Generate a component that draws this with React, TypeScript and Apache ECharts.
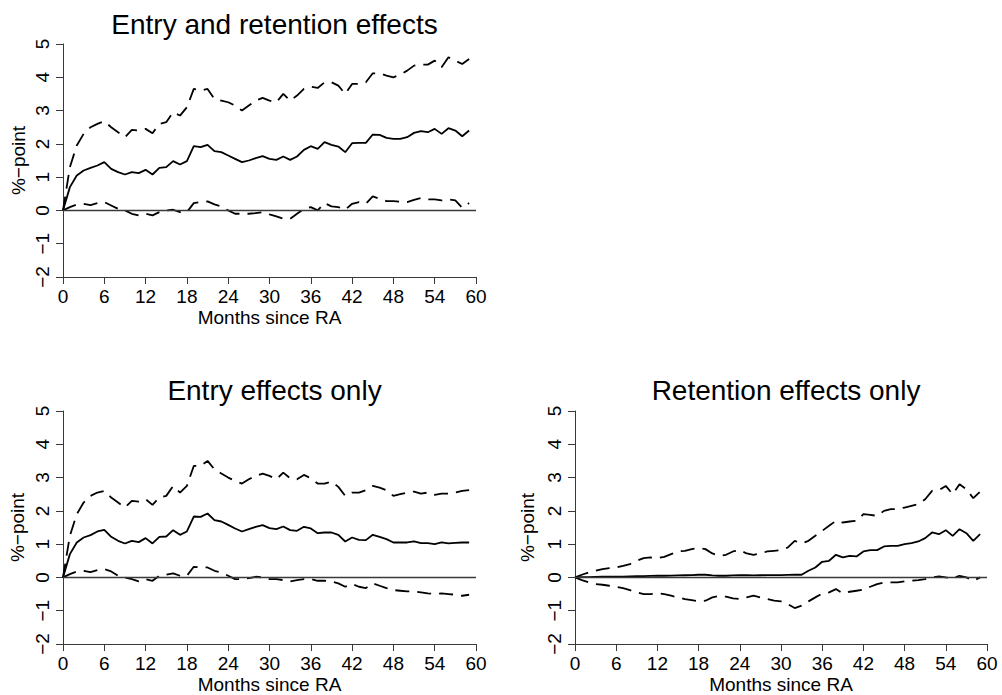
import React, { useEffect, useRef } from "react";
import * as echarts from "echarts";

const months: number[] = Array.from({ length: 60 }, (_, i) => i);
const xTicks = { min: 0, max: 60, interval: 6 };
const yTicks = { min: -2, max: 5, interval: 1 };

const titles = ["Entry and retention effects", "Entry effects only", "Retention effects only"];
const xName = "Months since RA";
const yName = "%−point";

// Panel 1: entry and retention effects
const p1Est = [0, 0.7, 1.05, 1.2, 1.28, 1.35, 1.45, 1.25, 1.15, 1.08, 1.15, 1.12, 1.22, 1.08, 1.28, 1.3, 1.48, 1.38, 1.48, 1.93, 1.9, 1.97, 1.78, 1.75, 1.65, 1.55, 1.45, 1.5, 1.57, 1.63, 1.55, 1.52, 1.62, 1.52, 1.62, 1.82, 1.93, 1.85, 2.05, 1.97, 1.92, 1.75, 2.02, 2.03, 2.03, 2.28, 2.27, 2.18, 2.15, 2.15, 2.2, 2.33, 2.38, 2.35, 2.45, 2.3, 2.47, 2.4, 2.23, 2.4];
const p1Up = [0, 1.3, 1.95, 2.3, 2.5, 2.6, 2.68, 2.5, 2.35, 2.2, 2.42, 2.4, 2.45, 2.32, 2.6, 2.65, 2.95, 2.85, 3.1, 3.65, 3.6, 3.65, 3.35, 3.3, 3.25, 3.15, 3.0, 3.15, 3.3, 3.38, 3.3, 3.25, 3.5, 3.3, 3.45, 3.65, 3.72, 3.68, 3.85, 3.85, 3.75, 3.5, 3.8, 3.8, 3.85, 4.12, 4.12, 4.05, 4.0, 4.08, 4.2, 4.35, 4.38, 4.38, 4.5, 4.3, 4.6, 4.5, 4.4, 4.55];
const p1Lo = [0, 0.1, 0.18, 0.2, 0.16, 0.22, 0.25, 0.15, 0.05, 0.0, -0.1, -0.15, -0.1, -0.15, -0.05, 0.0, 0.02, -0.05, -0.05, 0.22, 0.25, 0.27, 0.18, 0.12, 0.0, -0.1, -0.1, -0.1, -0.08, -0.05, -0.12, -0.18, -0.25, -0.25, -0.1, 0.05, 0.1, 0.0, 0.22, 0.12, 0.1, 0.02, 0.2, 0.25, 0.2, 0.42, 0.35, 0.28, 0.28, 0.26, 0.25, 0.32, 0.37, 0.33, 0.33, 0.3, 0.33, 0.3, 0.08, 0.22];

// Panel 2: entry effects only
const p2Est = [0, 0.7, 1.05, 1.2, 1.27, 1.38, 1.43, 1.22, 1.1, 1.02, 1.1, 1.06, 1.18, 1.02, 1.22, 1.23, 1.42, 1.28, 1.38, 1.83, 1.82, 1.92, 1.72, 1.68, 1.58, 1.47, 1.38, 1.45, 1.52, 1.57, 1.48, 1.45, 1.53, 1.42, 1.4, 1.52, 1.47, 1.33, 1.35, 1.35, 1.28, 1.08, 1.2, 1.13, 1.12, 1.28, 1.22, 1.15, 1.05, 1.05, 1.05, 1.08, 1.03, 1.03, 1.0, 1.05, 1.02, 1.04, 1.05, 1.05];
const p2Up = [0, 1.25, 1.9, 2.25, 2.45, 2.55, 2.6, 2.4, 2.25, 2.1, 2.3, 2.28, 2.35, 2.18, 2.4, 2.45, 2.75, 2.55, 2.75, 3.35, 3.35, 3.5, 3.25, 3.12, 3.0, 2.9, 2.82, 2.95, 3.05, 3.12, 3.05, 2.95, 3.15, 2.98, 2.95, 3.08, 2.98, 2.82, 2.82, 2.88, 2.72, 2.45, 2.55, 2.55, 2.62, 2.75, 2.7, 2.62, 2.45, 2.5, 2.55, 2.58, 2.52, 2.55, 2.48, 2.52, 2.52, 2.55, 2.6, 2.62];
const p2Lo = [0, 0.1, 0.18, 0.2, 0.16, 0.22, 0.25, 0.18, 0.05, 0.0, -0.05, -0.12, -0.05, -0.1, 0.05, 0.08, 0.12, 0.05, 0.05, 0.32, 0.3, 0.3, 0.2, 0.15, 0.05, -0.05, -0.05, -0.02, 0.02, 0.0, -0.05, -0.05, -0.08, -0.12, -0.08, -0.05, -0.05, -0.1, -0.1, -0.12, -0.18, -0.28, -0.2, -0.28, -0.32, -0.18, -0.25, -0.32, -0.38, -0.4, -0.42, -0.42, -0.45, -0.48, -0.5, -0.48, -0.5, -0.52, -0.55, -0.52];

// Panel 3: retention effects only
const p3Est = [0, 0.01, 0.01, 0.015, 0.02, 0.02, 0.02, 0.025, 0.03, 0.035, 0.04, 0.045, 0.05, 0.05, 0.055, 0.06, 0.065, 0.07, 0.08, 0.08, 0.06, 0.05, 0.05, 0.06, 0.07, 0.065, 0.06, 0.065, 0.07, 0.07, 0.07, 0.075, 0.08, 0.08, 0.2, 0.3, 0.47, 0.5, 0.68, 0.6, 0.65, 0.63, 0.78, 0.82, 0.82, 0.93, 0.95, 0.95, 1.0, 1.03, 1.08, 1.18, 1.35, 1.3, 1.42, 1.25, 1.45, 1.33, 1.1, 1.3];
const p3Up = [0, 0.08, 0.15, 0.2, 0.25, 0.28, 0.3, 0.35, 0.4, 0.5, 0.58, 0.6, 0.58, 0.62, 0.7, 0.78, 0.8, 0.85, 0.88, 0.85, 0.72, 0.65, 0.68, 0.78, 0.82, 0.72, 0.68, 0.72, 0.78, 0.8, 0.82, 0.9, 1.1, 1.02, 1.1, 1.25, 1.4, 1.55, 1.7, 1.65, 1.68, 1.7, 1.9, 1.88, 1.85, 2.0, 2.05, 2.05, 2.1, 2.15, 2.2, 2.35, 2.6, 2.62, 2.75, 2.5, 2.8, 2.65, 2.38, 2.58];
const p3Lo = [0, -0.08, -0.15, -0.2, -0.22, -0.25, -0.28, -0.32, -0.38, -0.45, -0.5, -0.5, -0.48, -0.5, -0.55, -0.6, -0.65, -0.68, -0.72, -0.7, -0.6, -0.55, -0.58, -0.63, -0.65, -0.6, -0.55, -0.6, -0.65, -0.7, -0.72, -0.8, -0.92, -0.85, -0.72, -0.6, -0.48, -0.45, -0.35, -0.48, -0.43, -0.4, -0.37, -0.28, -0.2, -0.15, -0.15, -0.15, -0.12, -0.1, -0.08, -0.05, 0.0, 0.03, 0.0, -0.02, 0.05, 0.0, -0.1, 0.0];

const panels = [
  { est: p1Est, up: p1Up, lo: p1Lo },
  { est: p2Est, up: p2Up, lo: p2Lo },
  { est: p3Est, up: p3Up, lo: p3Lo },
];

const FONT = '"Liberation Sans", Arial, Helvetica, sans-serif';
const grids = [
  { left: 63, top: 44, width: 413, height: 233 },
  { left: 63, top: 411, width: 413, height: 233 },
  { left: 575, top: 411, width: 412, height: 233 },
];
const yNameGaps = [35, 36, 38];

export default function App() {
  const ref = useRef<HTMLDivElement>(null);
  useEffect(() => {
    if (!ref.current) return;
    const chart = echarts.init(ref.current, undefined, { renderer: "svg" });
    const axisColor = "#3a3a3a";
    const fmtY = (v: number) => (v < 0 ? "−" + Math.abs(v) : String(v));
    const pair = (arr: number[]) => months.map((m, i) => [m, arr[i]]);
    const series: any[] = [];
    panels.forEach((p, k) => {
      series.push({
        type: "line", xAxisIndex: k, yAxisIndex: k, data: pair(p.up), showSymbol: false,
        lineStyle: { color: "#000", width: 1.8, type: [14, 8] }, silent: true,
      });
      series.push({
        type: "line", xAxisIndex: k, yAxisIndex: k, data: pair(p.lo), showSymbol: false,
        lineStyle: { color: "#000", width: 1.8, type: [14, 8] }, silent: true,
      });
      series.push({
        type: "line", xAxisIndex: k, yAxisIndex: k, data: pair(p.est), showSymbol: false,
        lineStyle: { color: "#000", width: 1.8 }, silent: true, z: 3,
        markLine: {
          silent: true, symbol: "none", label: { show: false },
          lineStyle: { color: "#3a3a3a", width: 1.4, type: "solid" },
          data: [{ yAxis: 0 }],
        },
      });
    });
    chart.setOption({
      animation: false,
      backgroundColor: "#fff",
      textStyle: { fontFamily: FONT },
      title: titles.map((t, k) => ({
        text: t,
        left: grids[k].left + grids[k].width / 2,
        textAlign: "center",
        top: k === 0 ? 5 : 371,
        textStyle: { fontFamily: FONT, fontSize: 28, fontWeight: "normal", color: "#000" },
      })),
      grid: grids.map((g) => ({ ...g, containLabel: false })),
      xAxis: grids.map((_, k) => ({
        type: "value", gridIndex: k, min: xTicks.min, max: xTicks.max, interval: xTicks.interval,
        name: xName, nameLocation: "middle", nameGap: 31,
        nameTextStyle: { fontFamily: FONT, fontSize: 19, color: "#000" },
        axisLine: { show: true, onZero: false, lineStyle: { color: axisColor, width: 1 } },
        axisTick: { show: true, length: 7, lineStyle: { color: axisColor, width: 1 } },
        axisLabel: { fontFamily: FONT, fontSize: 19, color: "#000", margin: 10 },
        splitLine: { show: false },
      })),
      yAxis: grids.map((_, k) => ({
        type: "value", gridIndex: k, min: yTicks.min, max: yTicks.max, interval: yTicks.interval,
        name: yName, nameLocation: "middle", nameGap: yNameGaps[k], nameRotate: 90,
        nameTextStyle: { fontFamily: FONT, fontSize: 19, color: "#000" },
        axisLine: { show: true, onZero: false, lineStyle: { color: axisColor, width: 1 } },
        axisTick: { show: true, length: 7, lineStyle: { color: axisColor, width: 1 } },
        axisLabel: { fontFamily: FONT, fontSize: 19, color: "#000", margin: 11, rotate: 90, formatter: fmtY },
        splitLine: { show: false },
      })),
      series,
    });
    return () => chart.dispose();
  }, []);
  return (
    <div
      ref={ref}
      style={{ position: "absolute", left: 0, top: 0, width: 1002, height: 695, background: "#fff" }}
    />
  );
}
